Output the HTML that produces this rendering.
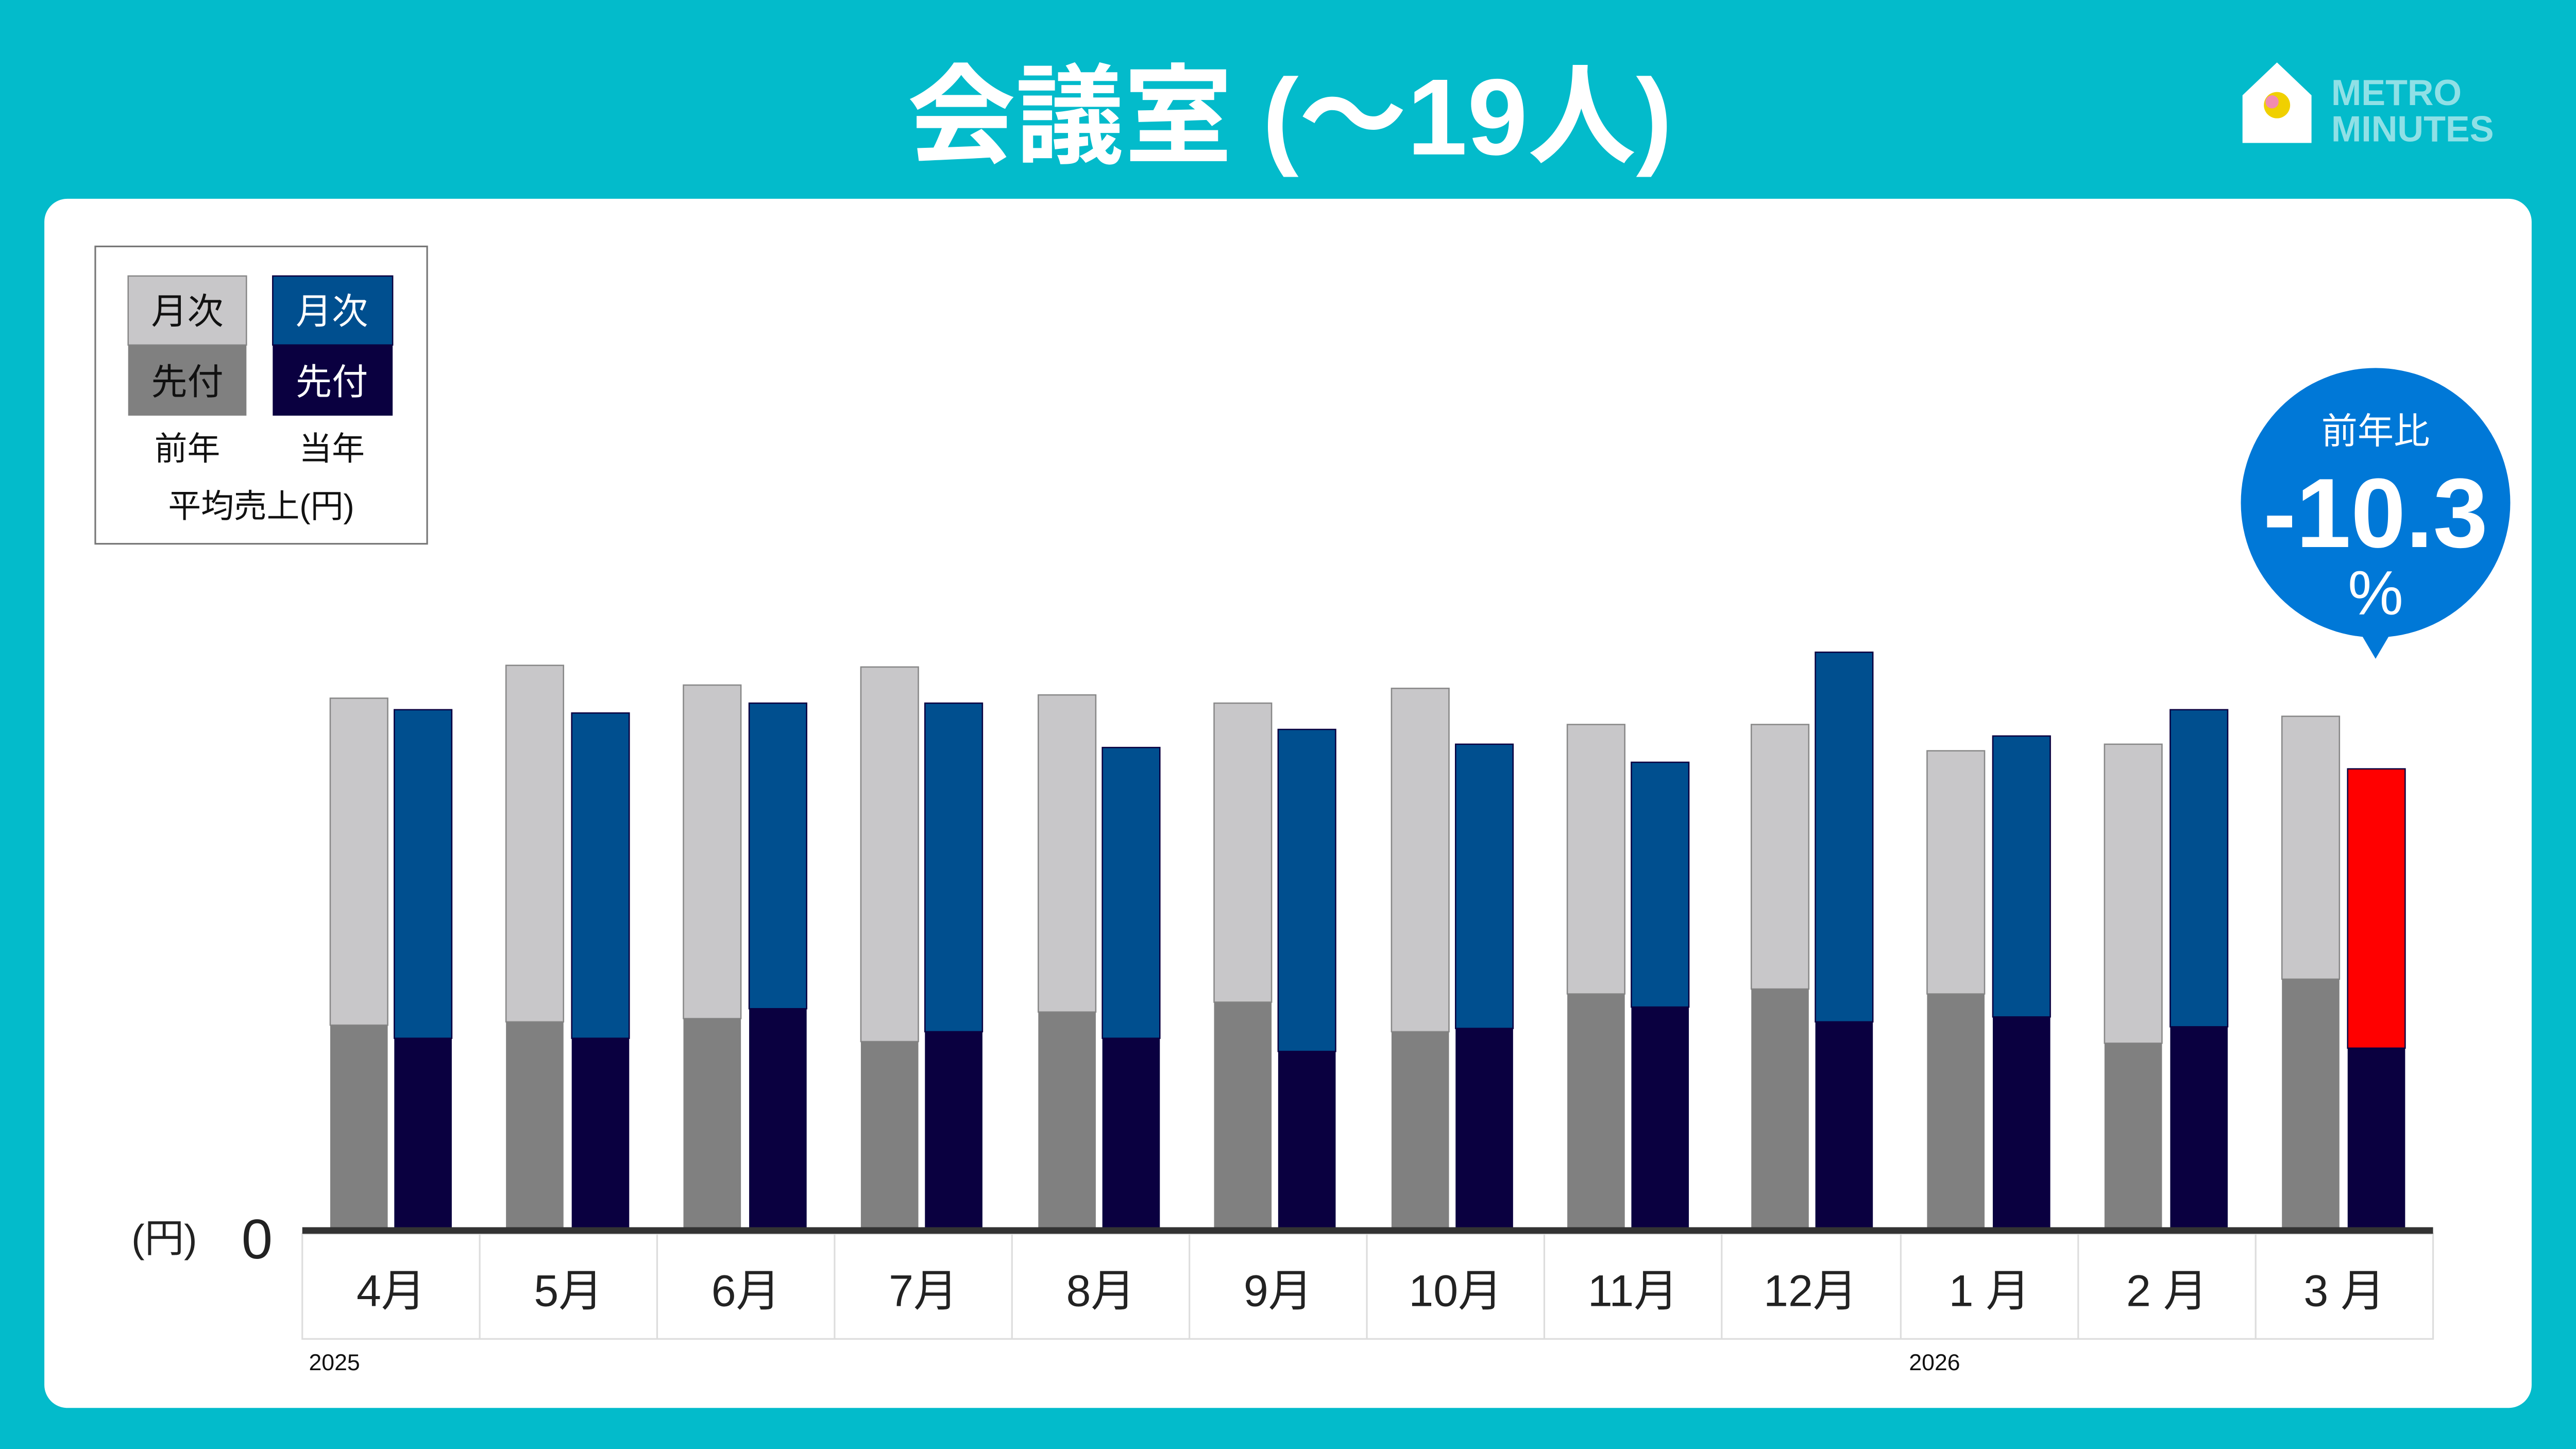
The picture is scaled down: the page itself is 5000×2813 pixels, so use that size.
<!DOCTYPE html>
<html><head><meta charset="utf-8"><style>
html,body{margin:0;padding:0;background:#03BBCB;}
svg{display:block}
text{font-family:"Liberation Sans","Noto Sans CJK JP",sans-serif;}
</style></head><body>
<svg width="5000" height="2813" viewBox="0 0 1568 882" preserveAspectRatio="none" xmlns="http://www.w3.org/2000/svg">
<rect width="1568" height="882" fill="#03BBCB"/>
<text x="785" y="94" font-size="66" font-weight="bold" fill="#fff" text-anchor="middle">会議室 (～19人)</text>
<!-- logo -->
<path d="M1365 58 L1386 38 L1407 58 L1407 87 L1365 87 Z" fill="#fff"/>
<circle cx="1386" cy="64" r="8" fill="#f0d000"/>
<circle cx="1383" cy="62" r="4" fill="#f28bb0"/>
<text x="1419" y="64" font-size="22" font-weight="bold" fill="#8fe0e6">METRO</text>
<text x="1419" y="86" font-size="22" font-weight="bold" fill="#8fe0e6">MINUTES</text>
<rect x="27" y="121" width="1514" height="736" rx="14" fill="#fff"/>
<!-- legend -->
<rect x="58" y="150" width="202" height="181" fill="#fff" stroke="#777" stroke-width="1"/>
<rect x="78" y="168" width="72" height="42" fill="#C8C7C9" stroke="#888" stroke-width="0.8"/>
<rect x="78" y="210" width="72" height="43" fill="#808080"/>
<rect x="166" y="168" width="73" height="42" fill="#004F8F" stroke="#0A0040" stroke-width="0.8"/>
<rect x="166" y="210" width="73" height="43" fill="#0A0040"/>
<g font-size="22" text-anchor="middle">
<text x="114" y="197" fill="#111">月次</text>
<text x="114" y="240" fill="#111">先付</text>
<text x="202" y="197" fill="#fff">月次</text>
<text x="202" y="240" fill="#fff">先付</text>
<text x="114" y="280" fill="#111" font-size="20">前年</text>
<text x="202" y="280" fill="#111" font-size="20">当年</text>
<text x="159" y="315" fill="#111" font-size="20">平均売上(円)</text>
</g>
<!-- badge -->
<circle cx="1446" cy="306" r="82" fill="#0078D7"/>
<path d="M1436 384 L1456 384 L1446 401 Z" fill="#0078D7"/>
<text x="1446" y="270" font-size="22" fill="#fff" text-anchor="middle">前年比</text>
<text x="1446" y="333" font-size="60" font-weight="bold" fill="#fff" text-anchor="middle">-10.3</text>
<text x="1446" y="374" font-size="38" fill="#fff" text-anchor="middle">%</text>
<!-- bars -->
<g id="bars">
<rect x="201" y="425" width="35" height="199" fill="#C8C7C9" stroke="#888" stroke-width="0.8"/><rect x="201" y="624" width="35" height="124" fill="#808080"/>
<rect x="240" y="432" width="35" height="200" fill="#004F8F" stroke="#0A0040" stroke-width="0.8"/><rect x="240" y="632" width="35" height="116" fill="#0A0040"/>
<rect x="308" y="405" width="35" height="217" fill="#C8C7C9" stroke="#888" stroke-width="0.8"/><rect x="308" y="622" width="35" height="126" fill="#808080"/>
<rect x="348" y="434" width="35" height="198" fill="#004F8F" stroke="#0A0040" stroke-width="0.8"/><rect x="348" y="632" width="35" height="116" fill="#0A0040"/>
<rect x="416" y="417" width="35" height="203" fill="#C8C7C9" stroke="#888" stroke-width="0.8"/><rect x="416" y="620" width="35" height="128" fill="#808080"/>
<rect x="456" y="428" width="35" height="186" fill="#004F8F" stroke="#0A0040" stroke-width="0.8"/><rect x="456" y="614" width="35" height="134" fill="#0A0040"/>
<rect x="524" y="406" width="35" height="228" fill="#C8C7C9" stroke="#888" stroke-width="0.8"/><rect x="524" y="634" width="35" height="114" fill="#808080"/>
<rect x="563" y="428" width="35" height="200" fill="#004F8F" stroke="#0A0040" stroke-width="0.8"/><rect x="563" y="628" width="35" height="120" fill="#0A0040"/>
<rect x="632" y="423" width="35" height="193" fill="#C8C7C9" stroke="#888" stroke-width="0.8"/><rect x="632" y="616" width="35" height="132" fill="#808080"/>
<rect x="671" y="455" width="35" height="177" fill="#004F8F" stroke="#0A0040" stroke-width="0.8"/><rect x="671" y="632" width="35" height="116" fill="#0A0040"/>
<rect x="739" y="428" width="35" height="182" fill="#C8C7C9" stroke="#888" stroke-width="0.8"/><rect x="739" y="610" width="35" height="138" fill="#808080"/>
<rect x="778" y="444" width="35" height="196" fill="#004F8F" stroke="#0A0040" stroke-width="0.8"/><rect x="778" y="640" width="35" height="108" fill="#0A0040"/>
<rect x="847" y="419" width="35" height="209" fill="#C8C7C9" stroke="#888" stroke-width="0.8"/><rect x="847" y="628" width="35" height="120" fill="#808080"/>
<rect x="886" y="453" width="35" height="173" fill="#004F8F" stroke="#0A0040" stroke-width="0.8"/><rect x="886" y="626" width="35" height="122" fill="#0A0040"/>
<rect x="954" y="441" width="35" height="164" fill="#C8C7C9" stroke="#888" stroke-width="0.8"/><rect x="954" y="605" width="35" height="143" fill="#808080"/>
<rect x="993" y="464" width="35" height="149" fill="#004F8F" stroke="#0A0040" stroke-width="0.8"/><rect x="993" y="613" width="35" height="135" fill="#0A0040"/>
<rect x="1066" y="441" width="35" height="161" fill="#C8C7C9" stroke="#888" stroke-width="0.8"/><rect x="1066" y="602" width="35" height="146" fill="#808080"/>
<rect x="1105" y="397" width="35" height="225" fill="#004F8F" stroke="#0A0040" stroke-width="0.8"/><rect x="1105" y="622" width="35" height="126" fill="#0A0040"/>
<rect x="1173" y="457" width="35" height="148" fill="#C8C7C9" stroke="#888" stroke-width="0.8"/><rect x="1173" y="605" width="35" height="143" fill="#808080"/>
<rect x="1213" y="448" width="35" height="171" fill="#004F8F" stroke="#0A0040" stroke-width="0.8"/><rect x="1213" y="619" width="35" height="129" fill="#0A0040"/>
<rect x="1281" y="453" width="35" height="182" fill="#C8C7C9" stroke="#888" stroke-width="0.8"/><rect x="1281" y="635" width="35" height="113" fill="#808080"/>
<rect x="1321" y="432" width="35" height="193" fill="#004F8F" stroke="#0A0040" stroke-width="0.8"/><rect x="1321" y="625" width="35" height="123" fill="#0A0040"/>
<rect x="1389" y="436" width="35" height="160" fill="#C8C7C9" stroke="#888" stroke-width="0.8"/><rect x="1389" y="596" width="35" height="152" fill="#808080"/>
<rect x="1429" y="468" width="35" height="170" fill="#FF0000" stroke="#0A0040" stroke-width="0.8"/><rect x="1429" y="638" width="35" height="110" fill="#0A0040"/>
</g>
<!-- category table -->
<rect x="184" y="751" width="1297" height="64" fill="#fff" stroke="#ddd" stroke-width="1"/>
<g stroke="#ddd" stroke-width="1">
<line x1="292" y1="751" x2="292" y2="815"/><line x1="400" y1="751" x2="400" y2="815"/><line x1="508" y1="751" x2="508" y2="815"/><line x1="616" y1="751" x2="616" y2="815"/><line x1="724" y1="751" x2="724" y2="815"/><line x1="832" y1="751" x2="832" y2="815"/><line x1="940" y1="751" x2="940" y2="815"/><line x1="1048" y1="751" x2="1048" y2="815"/><line x1="1157" y1="751" x2="1157" y2="815"/><line x1="1265" y1="751" x2="1265" y2="815"/><line x1="1373" y1="751" x2="1373" y2="815"/>
</g>
<rect x="184" y="747" width="1297" height="4" fill="#333"/>
<g font-size="27" fill="#222" text-anchor="middle">
<text x="238" y="795">4月</text><text x="346" y="795">5月</text><text x="454" y="795">6月</text><text x="562" y="795">7月</text><text x="670" y="795">8月</text><text x="778" y="795">9月</text><text x="886" y="795">10月</text><text x="994" y="795">11月</text><text x="1102" y="795">12月</text><text x="1211" y="795">1 月</text><text x="1319" y="795">2 月</text><text x="1427" y="795">3 月</text>
</g>
<text x="188" y="834" font-size="14" fill="#111">2025</text>
<text x="1162" y="834" font-size="14" fill="#111">2026</text>
<text x="80" y="762" font-size="24" fill="#222">(円)</text>
<text x="147" y="766" font-size="34" fill="#222">0</text>
</svg>
</body></html>
